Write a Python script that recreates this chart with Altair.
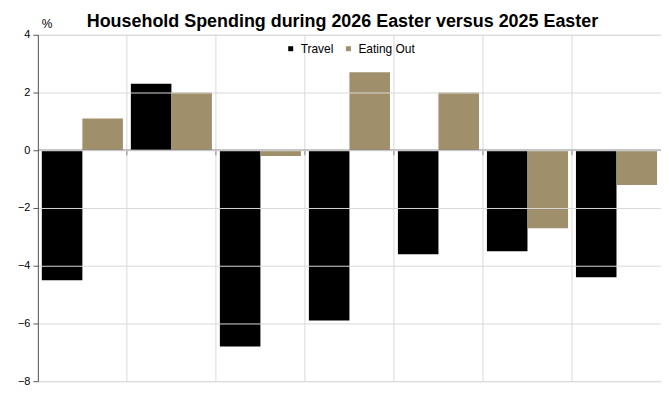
import altair as alt
import pandas as pd

regions = ["AU", "WA", "NSW", "Vic", "Qld", "SA", "Tas"]
travel = [-4.5, 2.3, -6.8, -5.9, -3.6, -3.5, -4.4]
eating_out = [1.1, 2.0, -0.2, 2.7, 2.0, -2.7, -1.2]
series = ["Travel", "Eating Out"]
colors = ["#000000", "#A08F6B"]
y_ticks = [4, 2, 0, -2, -4, -6, -8]
title_text = "Household Spending during 2026 Easter versus 2025 Easter"
unit_label = ["%"]

rows = []
for i, r in enumerate(regions):
    rows.append({"region": r, "series": series[0], "value": travel[i]})
    rows.append({"region": r, "series": series[1], "value": eating_out[i]})
df = pd.DataFrame(rows)
bounds = pd.DataFrame({"region": regions[1:]})

FONT = "Liberation Sans"
xscale = alt.Scale(domain=regions, paddingInner=0, paddingOuter=0)

grid = alt.Chart(bounds).mark_rule(color="#d9d9d9", strokeWidth=1).encode(
    x=alt.X("region:N", scale=xscale, bandPosition=0, axis=None)
)

bars = alt.Chart(df).mark_bar().encode(
    x=alt.X(
        "region:N",
        scale=xscale,
        axis=alt.Axis(
            title=None, labelAngle=0, domain=False, ticks=False, grid=False,
            labelPadding=8, labelFontSize=11, labelColor="#000000", labelFont=FONT,
        ),
    ),
    xOffset=alt.XOffset(
        "series:N",
        scale=alt.Scale(domain=series, paddingOuter=0.098, paddingInner=0),
    ),
    y=alt.Y(
        "value:Q",
        scale=alt.Scale(domain=[-8, 4], nice=False),
        axis=alt.Axis(
            values=y_ticks, title=None, grid=True, gridColor="#d9d9d9",
            domainColor="#595959", tickColor="#595959", tickSize=5,
            labelFontSize=11, labelColor="#000000", labelFont=FONT,
            labelPadding=3, zindex=1,
        ),
    ),
    color=alt.Color(
        "series:N",
        scale=alt.Scale(domain=series, range=colors),
        legend=alt.Legend(
            title=None, orient="none", direction="horizontal",
            legendX=248, legendY=8, symbolType="square", symbolSize=25,
            symbolStrokeWidth=0, labelFontSize=12, labelFont=FONT,
            labelColor="#000000", columnPadding=9, labelOffset=4,
        ),
    ),
)

zero = alt.Chart(pd.DataFrame({"v": [0]})).mark_rule(
    color="#8c8c8c", strokeWidth=1.5
).encode(y=alt.Y("v:Q"))

ticks = alt.Chart(bounds).mark_tick(
    orient="vertical", size=5, thickness=1, yOffset=2.5, color="#595959"
).encode(
    x=alt.X("region:N", scale=xscale, bandPosition=0, axis=None),
    y=alt.datum(0),
)

pct = alt.Chart(pd.DataFrame({"t": unit_label})).mark_text(
    font=FONT, fontSize=12, color="#000000", align="left", baseline="middle"
).encode(text="t:N", x=alt.value(4), y=alt.value(-11))

chart = (
    alt.layer(grid, bars, zero, ticks, pct)
    .properties(
        width=626,
        height=348,
        autosize=alt.AutoSizeParams(type="none"),
        padding={"left": 30, "top": 26, "right": 0, "bottom": 20},
        title=alt.TitleParams(
            title_text, font=FONT, fontSize=18, fontWeight="bold",
            color="#000000", anchor="middle", frame="group", dx=-7, dy=17,
        ),
    )
    .configure_view(stroke="#d9d9d9")
    .configure(font=FONT)
)

chart.save("out.html", embed_options={"renderer": "svg", "actions": False})
